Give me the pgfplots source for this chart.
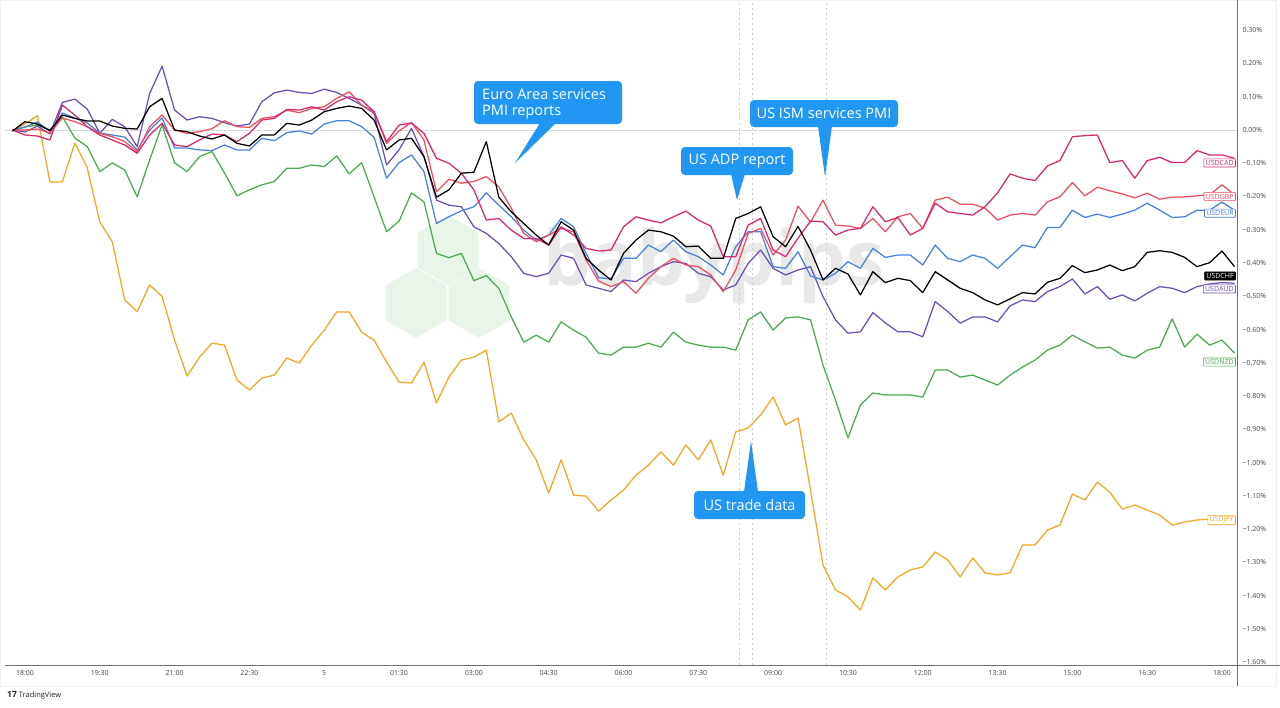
\documentclass[border=0pt]{standalone}
\usepackage{fontspec}
\setmainfont{Open Sans}
\usepackage{pgfplots}
\usepackage{pgfplotstable}
\pgfplotsset{compat=1.18}
\usetikzlibrary{shapes.geometric}
\definecolor{cadc}{RGB}{217,38,112}
\definecolor{gbpc}{RGB}{240,78,92}
\definecolor{eurc}{RGB}{72,130,220}
\definecolor{audc}{RGB}{110,80,180}
\definecolor{nzdc}{RGB}{76,170,80}
\definecolor{jpyc}{RGB}{245,166,35}
\definecolor{callout}{RGB}{33,150,243}
\definecolor{axisgray}{RGB}{110,110,115}
\definecolor{labelgray}{RGB}{70,70,75}
\definecolor{zerogray}{RGB}{215,217,222}
\definecolor{dashgray}{RGB}{200,203,208}
\definecolor{hexgreen}{RGB}{232,245,232}
\definecolor{wmgray}{RGB}{232,232,232}

\pgfplotstableread{
k cad gbp eur chf aud nzd jpy
-1 0 0 0 -0.003 0 -0.003 -0.003
0 -0.015 0 0.009 0.025 -0.006 0.009 0.018
1 -0.018 0.003 0.024 0.018 0.012 0.015 0.043
2 -0.030 -0.009 -0.003 -0.002 -0.012 0 -0.156
3 0.075 0.036 0.051 0.045 0.083 0.040 -0.156
4 0.045 0.025 0.036 0.035 0.093 -0.024 -0.039
5 0.010 0.010 0.021 0.027 0.063 -0.050 -0.114
6 -0.015 -0.010 -0.009 0.027 -0.010 -0.125 -0.276
7 -0.030 -0.020 -0.015 0.012 0.032 -0.099 -0.336
8 -0.045 -0.035 -0.021 0.005 0.010 -0.120 -0.511
9 -0.070 -0.065 -0.060 0.003 -0.050 -0.201 -0.546
10 -0.015 0.010 0.000 0.070 0.110 -0.090 -0.466
11 0.020 0.045 0.036 0.095 0.192 0.015 -0.501
12 -0.045 0 -0.054 0 0.060 -0.099 -0.632
13 -0.050 -0.010 -0.054 -0.005 0.030 -0.125 -0.740
14 -0.030 -0.005 -0.060 -0.018 0.040 -0.080 -0.683
15 -0.012 0.004 -0.062 -0.027 0.035 -0.065 -0.641
16 -0.015 0.028 -0.045 -0.015 0.022 -0.129 -0.647
17 -0.035 0.010 -0.060 -0.040 0.012 -0.198 -0.752
18 -0.010 0.008 -0.060 -0.048 0.018 -0.180 -0.782
19 0.030 0.035 -0.025 -0.015 0.085 -0.165 -0.746
20 0.035 0.040 -0.032 -0.015 0.112 -0.155 -0.737
21 0.062 0.060 -0.008 0.020 0.120 -0.115 -0.686
22 0.060 0.052 -0.003 0.015 0.113 -0.115 -0.701
23 0.070 0.065 -0.012 0.030 0.110 -0.105 -0.647
24 0.060 0.070 0.018 0.055 0.123 -0.110 -0.602
25 0.085 0.095 0.028 0.065 0.113 -0.078 -0.547
26 0.100 0.115 0.028 0.072 0.095 -0.132 -0.547
27 0.090 0.075 0.010 0.065 0.075 -0.098 -0.608
28 0.055 0.055 -0.022 0.030 0.050 -0.201 -0.632
29 -0.035 -0.040 -0.145 -0.060 -0.105 -0.306 -0.698
30 0.015 -0.003 -0.098 -0.030 -0.060 -0.274 -0.758
31 0.021 0.023 -0.075 -0.025 0.005 -0.189 -0.761
32 -0.010 -0.030 -0.125 -0.080 -0.080 -0.216 -0.698
33 -0.085 -0.186 -0.281 -0.202 -0.211 -0.371 -0.821
34 -0.100 -0.148 -0.261 -0.180 -0.226 -0.384 -0.743
35 -0.130 -0.160 -0.243 -0.130 -0.231 -0.371 -0.692
36 -0.180 -0.155 -0.231 -0.127 -0.291 -0.453 -0.683
37 -0.271 -0.140 -0.189 -0.035 -0.311 -0.438 -0.662
38 -0.266 -0.171 -0.226 -0.202 -0.341 -0.476 -0.878
39 -0.301 -0.235 -0.261 -0.246 -0.381 -0.562 -0.851
40 -0.326 -0.311 -0.301 -0.281 -0.431 -0.638 -0.932
41 -0.326 -0.336 -0.331 -0.316 -0.441 -0.617 -0.992
42 -0.346 -0.316 -0.316 -0.346 -0.431 -0.638 -1.092
43 -0.291 -0.296 -0.266 -0.276 -0.376 -0.577 -0.992
44 -0.316 -0.306 -0.291 -0.301 -0.386 -0.602 -1.098
45 -0.356 -0.391 -0.371 -0.386 -0.466 -0.623 -1.101
46 -0.364 -0.454 -0.444 -0.421 -0.476 -0.671 -1.146
47 -0.361 -0.471 -0.448 -0.451 -0.486 -0.677 -1.113
48 -0.291 -0.456 -0.386 -0.371 -0.451 -0.653 -1.083
49 -0.261 -0.491 -0.386 -0.331 -0.456 -0.653 -1.038
50 -0.271 -0.446 -0.346 -0.301 -0.431 -0.641 -1.008
51 -0.279 -0.411 -0.366 -0.306 -0.411 -0.653 -0.968
52 -0.261 -0.386 -0.331 -0.319 -0.396 -0.608 -1.008
53 -0.244 -0.406 -0.366 -0.351 -0.401 -0.638 -0.947
54 -0.271 -0.411 -0.381 -0.349 -0.431 -0.647 -0.992
55 -0.289 -0.436 -0.406 -0.386 -0.441 -0.653 -0.932
56 -0.381 -0.486 -0.436 -0.386 -0.481 -0.653 -1.038
57 -0.381 -0.421 -0.351 -0.266 -0.466 -0.662 -0.908
58 -0.286 -0.311 -0.306 -0.251 -0.401 -0.571 -0.896
59 -0.266 -0.296 -0.306 -0.231 -0.361 -0.547 -0.857
60 -0.361 -0.376 -0.411 -0.321 -0.416 -0.602 -0.803
61 -0.381 -0.331 -0.416 -0.351 -0.436 -0.565 -0.887
62 -0.325 -0.229 -0.366 -0.290 -0.421 -0.562 -0.866
63 -0.274 -0.277 -0.439 -0.361 -0.411 -0.571 -1.083
64 -0.276 -0.211 -0.451 -0.451 -0.501 -0.707 -1.308
65 -0.316 -0.286 -0.431 -0.416 -0.571 -0.812 -1.383
66 -0.301 -0.289 -0.396 -0.433 -0.611 -0.926 -1.404
67 -0.296 -0.296 -0.416 -0.496 -0.607 -0.827 -1.444
68 -0.231 -0.266 -0.356 -0.426 -0.549 -0.791 -1.347
69 -0.276 -0.306 -0.383 -0.459 -0.580 -0.797 -1.383
70 -0.263 -0.261 -0.376 -0.446 -0.607 -0.797 -1.344
71 -0.316 -0.251 -0.376 -0.453 -0.607 -0.797 -1.323
72 -0.296 -0.296 -0.406 -0.489 -0.622 -0.803 -1.314
73 -0.220 -0.211 -0.346 -0.426 -0.516 -0.722 -1.269
74 -0.246 -0.202 -0.386 -0.451 -0.546 -0.722 -1.293
75 -0.251 -0.223 -0.396 -0.476 -0.581 -0.743 -1.344
76 -0.256 -0.223 -0.376 -0.489 -0.562 -0.737 -1.287
77 -0.231 -0.235 -0.386 -0.511 -0.562 -0.752 -1.332
78 -0.189 -0.271 -0.416 -0.526 -0.577 -0.767 -1.338
79 -0.132 -0.256 -0.381 -0.508 -0.529 -0.737 -1.332
80 -0.145 -0.251 -0.346 -0.489 -0.511 -0.713 -1.248
81 -0.152 -0.256 -0.354 -0.493 -0.516 -0.692 -1.248
82 -0.108 -0.216 -0.293 -0.458 -0.486 -0.662 -1.203
83 -0.092 -0.201 -0.293 -0.446 -0.471 -0.647 -1.188
84 -0.020 -0.158 -0.241 -0.408 -0.448 -0.617 -1.095
85 -0.017 -0.198 -0.263 -0.429 -0.493 -0.637 -1.113
86 -0.015 -0.172 -0.253 -0.421 -0.471 -0.656 -1.059
87 -0.098 -0.183 -0.263 -0.406 -0.509 -0.653 -1.089
88 -0.092 -0.192 -0.253 -0.423 -0.496 -0.677 -1.140
89 -0.145 -0.204 -0.241 -0.411 -0.514 -0.686 -1.128
90 -0.092 -0.190 -0.220 -0.368 -0.491 -0.662 -1.143
91 -0.082 -0.208 -0.241 -0.363 -0.471 -0.653 -1.158
92 -0.098 -0.202 -0.263 -0.368 -0.476 -0.568 -1.188
93 -0.098 -0.201 -0.261 -0.383 -0.489 -0.653 -1.179
94 -0.062 -0.198 -0.241 -0.411 -0.471 -0.614 -1.173
95 -0.075 -0.195 -0.241 -0.399 -0.463 -0.647 -1.170
96 -0.075 -0.165 -0.217 -0.364 -0.459 -0.632 -1.167
97 -0.085 -0.195 -0.241 -0.411 -0.461 -0.671 -1.167
}\fxdata

\begin{document}
\begin{tikzpicture}
\useasboundingbox (0,0) rectangle (1280pt,-707pt);
\fill[white] (0,0) rectangle (1280pt,-707pt);
\draw[gray!12] (0.5pt,-0.5pt) rectangle (1276pt,-686pt);
% watermark
\node[regular polygon, regular polygon sides=6, rotate=30, minimum size=70pt, fill=hexgreen, inner sep=0] at (448pt,-250pt) {};
\node[regular polygon, regular polygon sides=6, rotate=30, minimum size=70pt, fill=hexgreen, inner sep=0] at (416pt,-303pt) {};
\node[regular polygon, regular polygon sides=6, rotate=30, minimum size=70pt, fill=hexgreen, inner sep=0] at (479pt,-303pt) {};
\node[font=\fontsize{76}{76}\selectfont\bfseries, text=wmgray, anchor=west, inner sep=0] at (543pt,-266pt) {babypips};

\begin{axis}[
  at={(5pt,0pt)}, anchor=north west,
  scale only axis, width=1232pt, height=665pt,
  xmin=-1.6, xmax=97.2, ymin=-1.609, ymax=0.391,
  axis x line*=bottom, axis y line*=right,
  axis line style={draw=axisgray, line width=0.8pt, -},
  xtick={0,6,12,18,24,30,36,42,48,54,60,66,72,78,84,90,96},
  xticklabels={18:00,19:30,21:00,22:30,5,01:30,03:00,04:30,06:00,07:30,09:00,10:30,12:00,13:30,15:00,16:30,18:00},
  ytick={-1.6,-1.5,-1.4,-1.3,-1.2,-1.1,-1.0,-0.9,-0.8,-0.7,-0.6,-0.5,-0.4,-0.3,-0.2,-0.1,0,0.1,0.2,0.3},
  yticklabels={−1.60\%,−1.50\%,−1.40\%,−1.30\%,−1.20\%,−1.10\%,−1.00\%,−0.90\%,−0.80\%,−0.70\%,−0.60\%,−0.50\%,−0.40\%,−0.30\%,−0.20\%,−0.10\%,0.00\%,0.10\%,0.20\%,0.30\%},
  major tick length=0pt,
  tick label style={font=\fontsize{7}{8}\selectfont, text=labelgray},
  xticklabel style={yshift=-2pt},
  yticklabel style={xshift=2pt},
  every axis plot/.append style={line width=1.25pt, line join=round},
]
\draw[zerogray, line width=0.9pt] (axis cs:-1.6,0) -- (axis cs:97.2,0);
\draw[dashgray, line width=0.8pt, dash pattern=on 2.5pt off 2.5pt] (axis cs:57.3,-1.609) -- (axis cs:57.3,0.391);
\draw[dashgray, line width=0.8pt, dash pattern=on 2.5pt off 2.5pt] (axis cs:58.3,-1.609) -- (axis cs:58.3,0.391);
\draw[dashgray, line width=0.8pt, dash pattern=on 2.5pt off 2.5pt] (axis cs:64.3,-1.609) -- (axis cs:64.3,0.391);
\addplot[nzdc] table[x=k,y=nzd]{\fxdata};
\addplot[jpyc] table[x=k,y=jpy]{\fxdata};
\addplot[audc] table[x=k,y=aud]{\fxdata};
\addplot[eurc] table[x=k,y=eur]{\fxdata};
\addplot[gbpc] table[x=k,y=gbp]{\fxdata};
\addplot[cadc] table[x=k,y=cad]{\fxdata};
\addplot[black] table[x=k,y=chf]{\fxdata};
\tikzset{lbl/.style={anchor=east, fill=white, font=\fontsize{7}{8}\selectfont, inner xsep=1.8pt, inner ysep=1.5pt, line width=0.6pt, rounded corners=0.8pt}}
\node[lbl, draw=cadc, text=cadc] at (axis cs:97.1,-0.099) {USDCAD};
\node[lbl, draw=gbpc, text=gbpc] at (axis cs:97.1,-0.200) {USDGBP};
\node[lbl, draw=eurc, text=eurc] at (axis cs:97.1,-0.250) {USDEUR};
\node[lbl, draw=black, fill=black, text=white] at (axis cs:97.1,-0.439) {USDCHF};
\node[lbl, draw=audc, text=audc] at (axis cs:97.1,-0.478) {USDAUD};
\node[lbl, draw=nzdc, text=nzdc] at (axis cs:97.1,-0.698) {USDNZD};
\node[lbl, draw=jpyc, text=jpyc] at (axis cs:97.1,-1.173) {USDJPY};
\end{axis}
\draw[axisgray, line width=0.8pt] (1237pt,-665pt) -- (1280pt,-665pt);
\draw[axisgray, line width=0.8pt] (1237pt,-665pt) -- (1237pt,-686pt);
% callouts
\tikzset{ctext/.style={text=white, font=\fontsize{14.5}{16}\selectfont, inner sep=0}}
\fill[callout, rounded corners=4pt] (474pt,-81pt) rectangle (622pt,-124pt);
\fill[callout] (540pt,-123pt) -- (556pt,-123pt) -- (515pt,-163pt) -- cycle;
\node[ctext, anchor=base west] at (482pt,-99pt) {Euro Area services};
\node[ctext, anchor=base west] at (482pt,-115pt) {PMI reports};
\fill[callout, rounded corners=4pt] (750pt,-100pt) rectangle (898pt,-127pt);
\fill[callout] (818pt,-126pt) -- (832pt,-126pt) -- (825pt,-177pt) -- cycle;
\node[ctext] at (824pt,-113.5pt) {US ISM services PMI};
\fill[callout, rounded corners=4pt] (681pt,-147pt) rectangle (793pt,-175pt);
\fill[callout] (731pt,-174pt) -- (745pt,-174pt) -- (737pt,-200pt) -- cycle;
\node[ctext] at (737pt,-161pt) {US ADP report};
\fill[callout, rounded corners=4pt] (694pt,-491pt) rectangle (805pt,-519pt);
\fill[callout] (744pt,-492pt) -- (758pt,-492pt) -- (751pt,-441pt) -- cycle;
\node[ctext] at (749.5pt,-505pt) {US trade data};
% logo
\node[anchor=west, inner sep=0, text=black!85] at (7pt,-695pt) {{\fontsize{8.5}{9}\selectfont\bfseries 17}\hspace{2pt}{\fontsize{7.5}{9}\selectfont TradingView}};
\end{tikzpicture}
\end{document}
